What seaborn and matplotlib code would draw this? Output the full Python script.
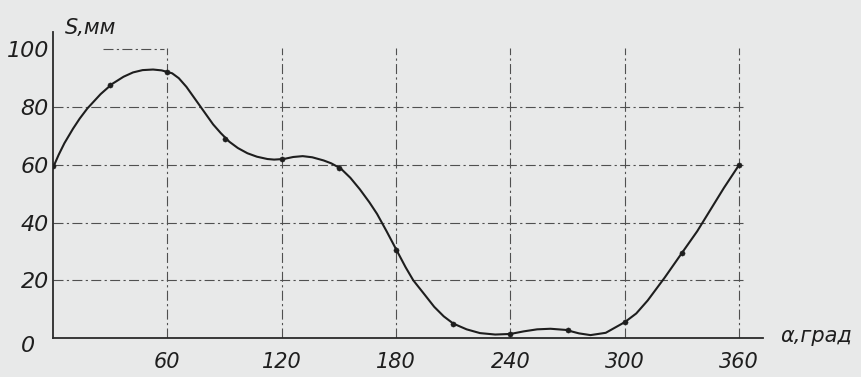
import matplotlib
matplotlib.use("Agg")
import matplotlib.pyplot as plt
import seaborn as sns
import pandas as pd

# values
curve_deg = [0, 3, 6, 10.5, 14, 18, 25, 31, 37, 42, 47, 52.5, 57, 62.5, 66, 70,
             77, 84, 88, 92.5, 97, 102, 107, 112.5, 116, 121, 126, 131, 136, 142,
             146, 151, 156, 161, 166, 170, 175, 181, 185, 189, 195, 200, 205, 210,
             217, 224, 232, 240, 247, 254, 261, 269, 276, 282, 290, 300, 306,
             312, 321, 330, 338, 345, 352, 360]
curve_val = [59, 63.5, 67.5, 72.5, 76, 79.5, 84.5, 88, 90.5, 92, 92.8, 93, 92.7, 91.7,
             90, 87, 80.5, 74, 71, 68, 65.8, 64, 62.8, 62, 61.8, 62, 62.7, 63,
             62.6, 61.5, 60.5, 58.7, 55.5, 51.5, 47, 43, 37, 29.5, 24.5, 20, 15, 10.8,
             7.5, 5, 3, 1.7, 1.2, 1.4, 2.3, 3, 3.2, 2.8, 1.6, 1, 1.8, 5.5, 8.5,
             13, 21, 29.5, 37, 44.5, 52, 60]
dot_deg = [0, 30, 60, 90, 120, 150, 180, 210, 240, 270, 300, 330, 360]
dot_val = [59.5, 87.5, 92.2, 69, 62, 59, 30.5, 5, 1.4, 2.8, 5.5, 29.5, 60]
x_ticks = [60, 120, 180, 240, 300, 360]
y_ticks = [20, 40, 60, 80, 100]
x_label = "α,град"
y_label = "S,мм"

bg = "#e8e9e9"
ink = "#1e1e1e"

sns.set_theme(style="white")
plt.rcParams['font.family'] = ['DejaVu Sans']

fig = plt.figure(figsize=(8.61, 3.77), dpi=100, facecolor=bg)
ax = fig.add_axes([53/861, (377-338)/377, (763-53)/861, (338-32)/377])
ax.set_facecolor(bg)

curve = pd.DataFrame({"deg": curve_deg, "val": curve_val})
dots = pd.DataFrame({"deg": dot_deg, "val": dot_val})

grid_kw = dict(color="#505050", linewidth=0.8, linestyle=(0, (9, 3, 2, 3)))
ax.vlines(x_ticks, 0, 100.5, **grid_kw, zorder=1)
ax.hlines(y_ticks[:-1], 0, 363, **grid_kw, zorder=1)
ax.hlines([100], 26, 58, **grid_kw, zorder=1)

sns.lineplot(data=curve, x="deg", y="val", ax=ax, color=ink, linewidth=1.5,
             sort=True, estimator=None, zorder=3)
sns.scatterplot(data=dots, x="deg", y="val", ax=ax, color=ink, s=14,
                edgecolor=ink, zorder=4)

ax.set_xlim(0, 372.5)
ax.set_ylim(0, 106)
ax.set_xticks(x_ticks)
ax.set_yticks(y_ticks)
ax.set_xticklabels([str(t) for t in x_ticks], fontsize=15, style="italic", color=ink)
ax.set_yticklabels([str(t) for t in y_ticks], fontsize=16, style="italic", color=ink)
ax.tick_params(axis="x", length=0, pad=10)
ax.tick_params(axis="y", length=0, pad=3)
ax.set_xlabel("")
ax.set_ylabel("")

for s in ["top", "right"]:
    ax.spines[s].set_visible(False)
for s in ["left", "bottom"]:
    ax.spines[s].set_color("#2a2a2a")
    ax.spines[s].set_linewidth(1.3)

fig.text(28/861, 1 - 346/377, "0", fontsize=16, style="italic", color=ink,
         ha="center", va="center")
fig.text(65/861, 1 - 28/377, y_label, fontsize=15, style="italic", color=ink,
         ha="left", va="center")
fig.text(780/861, 1 - 336/377, x_label, fontsize=15, style="italic", color=ink,
         ha="left", va="center")

fig.savefig("out.png", dpi=100, facecolor=bg)
